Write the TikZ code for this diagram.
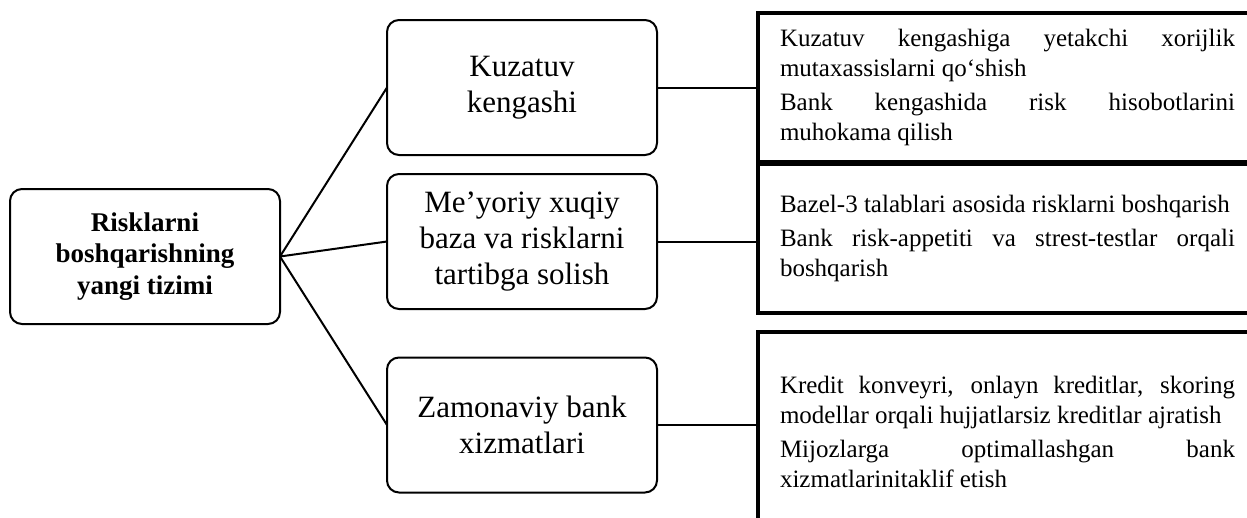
\documentclass[tikz,border=0pt]{standalone}
\usepackage{fontspec}
\setmainfont{Liberation Serif}
\usetikzlibrary{positioning}
\hyphenpenalty=10000
\exhyphenpenalty=10000

\begin{document}
\begin{tikzpicture}[
    x=1pt, y=-1pt,
    root/.style={draw, line width=2pt, rounded corners=12pt, minimum width=270pt, minimum height=135pt, align=center, outer sep=0pt, font=\bfseries\fontsize{27}{31.5}\selectfont},
    part/.style={draw, line width=2pt, rounded corners=12pt, minimum width=270pt, minimum height=135pt, align=center, outer sep=0pt, font=\fontsize{31}{36}\selectfont},
    note/.style={draw, line width=3.5pt, text width=455pt, inner xsep=22pt, align=justify, anchor=north west, outer sep=0pt, font=\fontsize{25}{30}\selectfont},
    link/.style={line width=2pt}
]
\clip (0,0) rectangle (1247,517);

% main node
\node[root] (system) at (145,256.5) {Risklarni\\ boshqarishning\\ yangi tizimi};

% middle column
\node[part] (kuzatuv) at (522,87.5) {Kuzatuv\\ kengashi};
\node[part] (meyor) at (522,241.5) {Me’yoriy xuqiy\\ baza va risklarni\\ tartibga solish};
\node[part] (zamon) at (522,425) {Zamonaviy bank\\ xizmatlari};

% right column (cut off at the page edge)
\node[note, minimum height=148.5pt] (kuzatuvnote) at (758,13) {Kuzatuv kengashiga yetakchi xorijlik\linebreak mutaxassislarni qo‘shish\par\vspace{4pt}Bank kengashida risk hisobotlarini\linebreak muhokama qilish};
\node[note, minimum height=149pt] (meyornote) at (758,164) {Bazel-3 talablari asosida risklarni boshqarish\par\vspace{4pt}Bank risk-appetiti va strest-testlar orqali\linebreak boshqarish\par\vspace{10pt}};
\node[note, minimum height=200pt] (zamonnote) at (758,332) {Kredit konveyri, onlayn kreditlar, skoring\linebreak modellar orqali hujjatlarsiz kreditlar ajratish\par\vspace{4pt}Mijozlarga optimallashgan bank\linebreak xizmatlarinitaklif etish};

% links from the main node
\draw[link] (system.east) -- (kuzatuv.west);
\draw[link] (system.east) -- (meyor.west);
\draw[link] (system.east) -- (zamon.west);

% links to the notes
\draw[link] (kuzatuv.east) -- (kuzatuv.east -| kuzatuvnote.west);
\draw[link] (meyor.east) -- (meyor.east -| meyornote.west);
\draw[link] (zamon.east) -- (zamon.east -| zamonnote.west);

\end{tikzpicture}
\end{document}
